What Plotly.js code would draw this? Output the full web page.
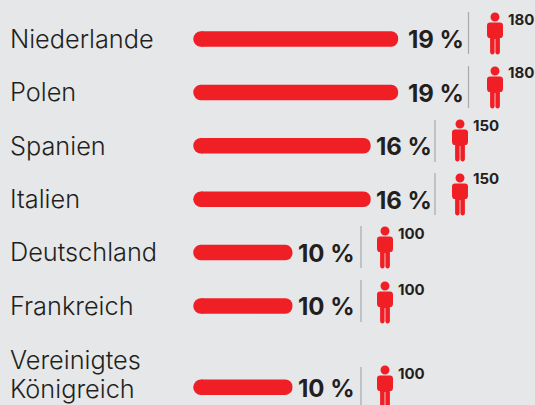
<!DOCTYPE html>
<html><head><meta charset="utf-8">
<script src="https://cdn.plot.ly/plotly-3.0.1.min.js"></script>
<style>html,body{margin:0;padding:0;background:#e6e7e9}</style></head>
<body><div id="chart" style="width:535px;height:405px"></div>
<script>
const countries = ["Niederlande","Polen","Spanien","Italien","Deutschland","Frankreich","Vereinigtes<br>Königreich"];
const barLengths = [19.4,19.4,16.8,16.8,9.4,9.4,9.4];
const percents = [19,19,16,16,10,10,10];
const people = [180,180,150,150,100,100,100];
const rowPos = [0,1,2,3,4,5,6.52];

const RED="#f01f26", INK="#231f20", BG="#e6e7e9";
const FONT="Inter, 'Open Sans', sans-serif";
const W=535,H=405;
const px=x=>x/W, py=y=>1-y/H;
// per-row page placement of the side furniture
const pctRight=[465,465,433.5,433.5,355.5,355.5,355.5];
const sepX=[468.5,468.5,435,435,361,361,361];
const sepTop=[12,66,120,173,226,280,367];
const iconX=[495,495,460,460,385,385,385];
const iconY=[17,71,124,178,231,286,370];
const countY=[19,72,125,178,233,289,373];
const labelY=[38,91,145,198,251,305,388];
const pctY=[39,93,146,200,253,306,388];

const PERSON="M0,4.5 C2.5,4.5 4.5,2.5 4.5,0 C4.5,-2.5 2.5,-4.5 0,-4.5 C-2.5,-4.5 -4.5,-2.5 -4.5,0 C-4.5,2.5 -2.5,4.5 0,4.5 Z "+
 "M-5,-5.5 L5,-5.5 C6.9,-5.5 8,-6.8 8,-8.5 L8,-17.5 C8,-19.5 7,-21 6,-21 L4.9,-21 L4.9,-35 C4.9,-36.6 3.9,-37.5 2.6,-37.5 C1.3,-37.5 0.4,-36.6 0.4,-35 L0.4,-22 L-0.4,-22 L-0.4,-35 C-0.4,-36.6 -1.3,-37.5 -2.6,-37.5 C-3.9,-37.5 -4.9,-36.6 -4.9,-35 L-4.9,-21 L-6,-21 C-7,-21 -8,-19.5 -8,-17.5 L-8,-8.5 C-8,-6.8 -6.9,-5.5 -5,-5.5 Z";

const scale=10.57; // px per unit
const x0=201;
const xRange=[-x0/scale,(W-x0)/scale];
const rowPx=53.4, y0=39;
const yRange=[(H-y0)/rowPx,-y0/rowPx];
const thick=15.5/rowPx;

const traces=[
 {type:"bar",orientation:"h",x:barLengths.map(v=>v-0.75),y:rowPos,width:thick,
  marker:{color:RED,cornerradius:8,line:{width:0}},hoverinfo:"skip",cliponaxis:false},
 {type:"scatter",mode:"markers",x:rowPos.map(()=>0),y:rowPos,
  marker:{color:RED,size:15.5,line:{width:0}},hoverinfo:"skip",cliponaxis:false}
];

const annotations=[], shapes=[];
rowPos.forEach((r,i)=>{
 const lines=countries[i].split("<br>");
 lines.forEach((t,k)=>{
  const y=lines.length>1?[359,388][k]:labelY[i];
  annotations.push({xref:"paper",yref:"paper",x:px(9),y:py(y),xanchor:"left",yanchor:"middle",align:"left",
   text:t,showarrow:false,font:{family:FONT,size:25.3,weight:300,color:INK},borderpad:0});
 });
 annotations.push({xref:"paper",yref:"paper",x:px(pctRight[i]),y:py(pctY[i]),xanchor:"right",yanchor:"middle",
  text:"<b>"+percents[i]+" %</b>",showarrow:false,font:{family:FONT,size:24,color:INK},borderpad:0});
 annotations.push({xref:"paper",yref:"paper",x:px(iconX[i]+11.5),y:py(countY[i]),xanchor:"left",yanchor:"middle",
  text:"<b>"+people[i]+"</b>",showarrow:false,font:{family:FONT,size:15,color:INK},borderpad:0});
 shapes.push({type:"line",xref:"paper",yref:"paper",x0:px(sepX[i]),x1:px(sepX[i]),y0:py(sepTop[i]),y1:py(sepTop[i]+42),
  line:{color:"#a7a9ac",width:1.2}});
 shapes.push({type:"path",xref:"paper",yref:"paper",xsizemode:"pixel",ysizemode:"pixel",
  xanchor:px(iconX[i]),yanchor:py(iconY[i]),path:PERSON,fillcolor:RED,line:{width:0}});
});

Plotly.newPlot("chart",traces,{
 width:W,height:H,margin:{l:0,r:0,t:0,b:0,pad:0},
 paper_bgcolor:BG,plot_bgcolor:BG,showlegend:false,barmode:"overlay",
 xaxis:{range:xRange,visible:false,fixedrange:true},
 yaxis:{range:yRange,visible:false,fixedrange:true},
 annotations,shapes
},{displayModeBar:false,staticPlot:true});
</script></body></html>
